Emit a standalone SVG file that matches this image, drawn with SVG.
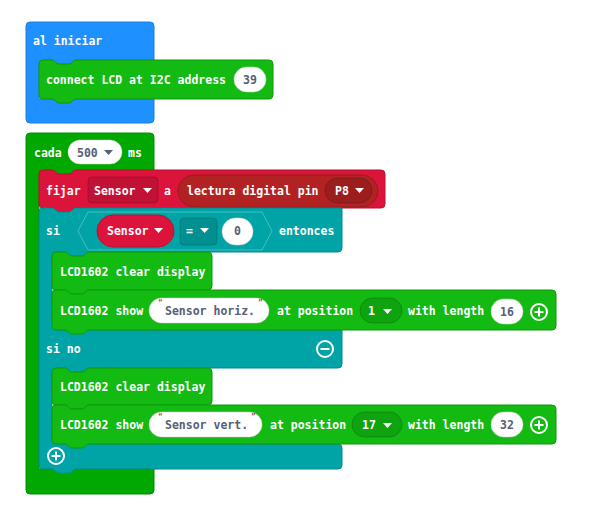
<svg xmlns="http://www.w3.org/2000/svg" width="595" height="513" viewBox="0 0 595 513">
<style>
text{font-family:"DejaVu Sans Mono","Liberation Mono",monospace;font-weight:bold;font-size:11.5px}
.w{fill:#ffffff}
.d{fill:#575E75}
.q{fill:#a31515;font-size:8px;font-weight:normal}
.blue{fill:#1E90FF;stroke:#1a7fe0;stroke-width:1}
.loop{fill:#00A800;stroke:#008f00;stroke-width:1}
.lcd{fill:#12BA12;stroke:#0e9a0e;stroke-width:1}
.var{fill:#DC143C;stroke:#b8102f;stroke-width:1}
.pin{fill:#B22222;stroke:#961c1c;stroke-width:1}
.logic{fill:#00A4A6;stroke:#008b8d;stroke-width:1}
.pill{fill:#ffffff;stroke:#d0d0d0;stroke-width:0.5}
.dd{fill:rgba(0,0,0,0.12);stroke:rgba(0,0,0,0.18);stroke-width:1}
.tri{fill:#ffffff}
.trid{fill:#575E75}
.ico{fill:none;stroke:#ffffff;stroke-width:2}
</style>

<g id="connectors"></g>

<g id="al-iniciar">
<path class="blue" d="M26,26 a4,4 0 0 1 4,-4 H150 a4,4 0 0 1 4,4 V60 H75 l-5,4 h-12 l-5,-4 H43 a4,4 0 0 0 -4,4 V99 H154 V119 a4,4 0 0 1 -4,4 H30 a4,4 0 0 1 -4,-4 Z"/>
<text class="w" x="33" y="45">al iniciar</text>
</g>

<g id="connect-lcd">
<path class="lcd" d="M39,64 a4,4 0 0 1 4,-4 H53 l5,4 h12 l5,-4 H269 a4,4 0 0 1 4,4 V95 a4,4 0 0 1 -4,4 H75 l-5,4 h-12 l-5,-4 H43 a4,4 0 0 1 -4,-4 Z"/>
<text class="w" x="46" y="84">connect LCD at I2C address</text>
<rect class="pill" x="234" y="67" width="32" height="25" rx="12.5"/>
<text class="d" x="250" y="84" text-anchor="middle">39</text>
</g>

<g id="cada">
<path class="loop" d="M26,137 a4,4 0 0 1 4,-4 H150 a4,4 0 0 1 4,4 V170 H75 l-5,4 h-12 l-5,-4 H43 a4,4 0 0 0 -4,4 V469 H154 V490 a4,4 0 0 1 -4,4 H30 a4,4 0 0 1 -4,-4 Z"/>
<text class="w" x="34" y="157">cada</text>
<rect class="pill" x="68" y="140" width="54" height="24" rx="12"/>
<text class="d" x="77" y="157">500</text>
<polygon class="trid" points="104,150 113,150 108.5,155"/>
<text class="w" x="128" y="157">ms</text>
</g>

<g id="fijar">
<path class="var" d="M39,174 a4,4 0 0 1 4,-4 H53 l5,4 h12 l5,-4 H381 a4,4 0 0 1 4,4 V204 a4,4 0 0 1 -4,4 H75 l-5,4 h-12 l-5,-4 H43 a4,4 0 0 1 -4,-4 Z"/>
<text class="w" x="46" y="195">fijar</text>
<rect class="dd" x="88" y="177" width="70" height="26" rx="4"/>
<text class="w" x="94" y="195">Sensor</text>
<polygon class="tri" points="143,188 152,188 147.5,193"/>
<text class="w" x="164" y="195">a</text>
<rect class="pin" x="178" y="175" width="200" height="32" rx="16"/>
<text class="w" x="187" y="195">lectura digital pin</text>
<rect class="dd" x="325" y="178" width="47" height="25" rx="12.5"/>
<text class="w" x="335" y="195">P8</text>
<polygon class="tri" points="355,188 364,188 359.5,193"/>
</g>

<g id="si">
<path class="logic" d="M39,212 a4,4 0 0 1 4,-4 H53 l5,4 h12 l5,-4 H342 V248 a4,4 0 0 1 -4,4 H88 l-5,4 h-12 l-5,-4 H56 a4,4 0 0 0 -4,4 V326 a4,4 0 0 0 4,4 H342 V364 a4,4 0 0 1 -4,4 H88 l-5,4 h-12 l-5,-4 H56 a4,4 0 0 0 -4,4 V440 a4,4 0 0 0 4,4 H338 a4,4 0 0 1 4,4 V465 a4,4 0 0 1 -4,4 H75 l-5,4 h-12 l-5,-4 H43 a4,4 0 0 1 -4,-4 Z"/>
<text class="w" x="46" y="235">si</text>
<path d="M78,231 L88,212 H262 L272,231 L262,250 H88 Z" fill="#00A4A6" stroke="#45c0c1" stroke-width="1"/>
<rect class="var" x="97" y="215" width="77" height="32" rx="16"/>
<text class="w" x="107" y="235">Sensor</text>
<polygon class="tri" points="154,228 163,228 158.5,233"/>
<rect class="dd" x="180" y="218" width="37" height="27" rx="4"/>
<text class="w" x="186" y="235">=</text>
<polygon class="tri" points="200,228 209,228 204.5,233"/>
<rect class="pill" x="222" y="218" width="31" height="27" rx="13.5"/>
<text class="d" x="237.5" y="235" text-anchor="middle">0</text>
<text class="w" x="279" y="235">entonces</text>
<text class="w" x="46" y="353">si no</text>
<circle class="ico" cx="325" cy="349" r="8"/>
<line class="ico" x1="320.5" y1="349" x2="329.5" y2="349" stroke-width="2.5"/>
<circle class="ico" cx="56" cy="456" r="8"/>
<line class="ico" x1="51.5" y1="456" x2="60.5" y2="456" stroke-width="2.5"/>
<line class="ico" x1="56" y1="451.5" x2="56" y2="460.5" stroke-width="2.5"/>
</g>

<g id="clear1">
<path class="lcd" d="M52,256 a4,4 0 0 1 4,-4 H66 l5,4 h12 l5,-4 H208 a4,4 0 0 1 4,4 V286 a4,4 0 0 1 -4,4 H88 l-5,4 h-12 l-5,-4 H56 a4,4 0 0 1 -4,-4 Z"/>
<text class="w" x="60" y="276">LCD1602 clear display</text>
</g>

<g id="show1">
<path class="lcd" d="M52,294 a4,4 0 0 1 4,-4 H66 l5,4 h12 l5,-4 H552 a4,4 0 0 1 4,4 V326 a4,4 0 0 1 -4,4 H88 l-5,4 h-12 l-5,-4 H56 a4,4 0 0 1 -4,-4 Z"/>
<text class="w" x="60" y="315">LCD1602 show</text>
<rect class="pill" x="149" y="298" width="120" height="25" rx="12.5"/>
<text class="q" x="158" y="306">“</text>
<text class="d" x="165" y="315">Sensor horiz.</text>
<text class="q" x="258" y="306">”</text>
<text class="w" x="277" y="315">at position</text>
<rect class="dd" x="360" y="298" width="42" height="25" rx="12.5"/>
<text class="w" x="368" y="315">1</text>
<polygon class="tri" points="383,309 392,309 387.5,314"/>
<text class="w" x="408" y="315">with length</text>
<rect class="pill" x="491" y="299" width="32" height="25" rx="12.5"/>
<text class="d" x="507" y="316" text-anchor="middle">16</text>
<circle class="ico" cx="539" cy="312" r="8"/>
<line class="ico" x1="534.5" y1="312" x2="543.5" y2="312" stroke-width="2.5"/>
<line class="ico" x1="539" y1="307.5" x2="539" y2="316.5" stroke-width="2.5"/>
</g>

<g id="clear2">
<path class="lcd" d="M52,372 a4,4 0 0 1 4,-4 H66 l5,4 h12 l5,-4 H208 a4,4 0 0 1 4,4 V401 a4,4 0 0 1 -4,4 H88 l-5,4 h-12 l-5,-4 H56 a4,4 0 0 1 -4,-4 Z"/>
<text class="w" x="60" y="391">LCD1602 clear display</text>
</g>

<g id="show2">
<path class="lcd" d="M52,409 a4,4 0 0 1 4,-4 H66 l5,4 h12 l5,-4 H552 a4,4 0 0 1 4,4 V440 a4,4 0 0 1 -4,4 H88 l-5,4 h-12 l-5,-4 H56 a4,4 0 0 1 -4,-4 Z"/>
<text class="w" x="60" y="429">LCD1602 show</text>
<rect class="pill" x="149" y="412" width="113" height="25" rx="12.5"/>
<text class="q" x="158" y="420">“</text>
<text class="d" x="165" y="429">Sensor vert.</text>
<text class="q" x="251" y="420">”</text>
<text class="w" x="270" y="429">at position</text>
<rect class="dd" x="352" y="412" width="50" height="25" rx="12.5"/>
<text class="w" x="362" y="429">17</text>
<polygon class="tri" points="383,423 392,423 387.5,428"/>
<text class="w" x="408" y="429">with length</text>
<rect class="pill" x="491" y="412" width="32" height="25" rx="12.5"/>
<text class="d" x="507" y="429" text-anchor="middle">32</text>
<circle class="ico" cx="539" cy="425" r="8"/>
<line class="ico" x1="534.5" y1="425" x2="543.5" y2="425" stroke-width="2.5"/>
<line class="ico" x1="539" y1="420.5" x2="539" y2="429.5" stroke-width="2.5"/>
</g>
</svg>
